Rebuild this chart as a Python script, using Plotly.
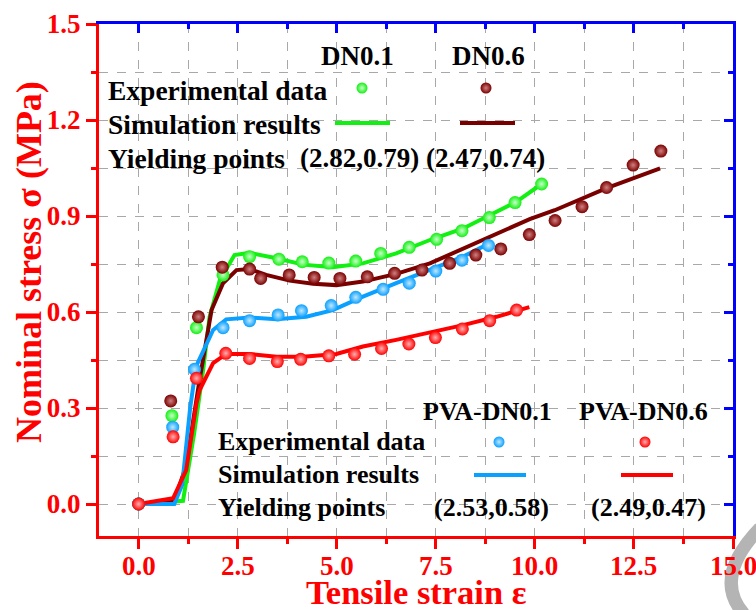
import plotly.graph_objects as go

# ---------------- data ----------------
# Experimental data (strain, nominal stress in MPa)
dn01_exp_x = [0, 0.84, 1.46, 2.13, 2.80, 3.54, 4.13, 4.80, 5.48, 6.11, 6.83, 7.52, 8.16, 8.85, 9.50, 10.17]
dn01_exp_y = [0, 0.276, 0.551, 0.716, 0.773, 0.765, 0.757, 0.753, 0.759, 0.783, 0.802, 0.827, 0.854, 0.895, 0.942, 1.00]

dn06_exp_x = [0, 0.81, 1.51, 2.11, 2.80, 3.08, 3.80, 4.43, 5.08, 5.77, 6.46, 7.15, 7.85, 8.51, 9.14, 9.86,
              10.51, 11.19, 11.81, 12.48, 13.18]
dn06_exp_y = [0, 0.322, 0.585, 0.740, 0.734, 0.705, 0.716, 0.708, 0.705, 0.710, 0.721, 0.731, 0.752, 0.778,
              0.797, 0.842, 0.886, 0.929, 0.989, 1.059, 1.103]

pva01_exp_x = [0, 0.86, 1.41, 2.13, 2.80, 3.52, 4.11, 4.86, 5.48, 6.17, 6.83, 7.50, 8.16, 8.83]
pva01_exp_y = [0, 0.240, 0.421, 0.551, 0.573, 0.591, 0.604, 0.620, 0.646, 0.671, 0.690, 0.728, 0.762, 0.808]

pva06_exp_x = [0, 0.87, 1.46, 2.20, 2.80, 3.50, 4.09, 4.80, 5.45, 6.13, 6.82, 7.49, 8.17, 8.86, 9.54]
pva06_exp_y = [0, 0.210, 0.393, 0.471, 0.455, 0.445, 0.452, 0.463, 0.468, 0.486, 0.500, 0.520, 0.547, 0.573, 0.606]

# Simulation results
dn01_sim_x = [0, 1.12, 1.40, 1.63, 1.79, 2.05, 2.42, 2.80, 3.48, 4.15, 4.90, 5.66, 6.50, 7.35, 8.19, 9.03, 9.54, 10.17]
dn01_sim_y = [0, 0.010, 0.220, 0.420, 0.585, 0.700, 0.778, 0.785, 0.768, 0.748, 0.740, 0.752, 0.783, 0.825,
              0.861, 0.914, 0.945, 1.000]

dn06_sim_x = [0, 0.90, 1.20, 1.54, 1.84, 2.13, 2.47, 2.80, 3.22, 3.81, 4.40, 4.99, 5.66, 6.50, 7.35, 8.19, 9.03,
              9.87, 10.50, 11.81, 13.16]
dn06_sim_y = [0, 0.010, 0.120, 0.390, 0.606, 0.690, 0.731, 0.734, 0.716, 0.698, 0.688, 0.684, 0.695, 0.719,
              0.752, 0.799, 0.846, 0.890, 0.918, 0.987, 1.049]

pva01_sim_x = [0, 0.90, 1.10, 1.30, 1.45, 1.88, 2.21, 2.80, 3.48, 4.23, 4.90, 5.66, 6.50, 7.35, 8.19, 8.86]
pva01_sim_y = [0, 0.000, 0.060, 0.300, 0.430, 0.544, 0.577, 0.583, 0.577, 0.585, 0.606, 0.648, 0.690, 0.731,
               0.773, 0.815]

pva06_sim_x = [0, 0.87, 1.20, 1.46, 1.54, 1.88, 2.21, 2.80, 3.48, 4.15, 4.99, 5.66, 6.50, 7.35, 8.19, 9.03, 9.86]
pva06_sim_y = [0, 0.018, 0.106, 0.315, 0.356, 0.440, 0.469, 0.469, 0.460, 0.460, 0.469, 0.492, 0.513, 0.535,
               0.559, 0.585, 0.615]

# Axis ticks
x_ticks = [0.0, 2.5, 5.0, 7.5, 10.0, 12.5, 15.0]
y_ticks = [0.0, 0.3, 0.6, 0.9, 1.2, 1.5]

# Legend text
series_names_top = ["DN0.1", "DN0.6"]
yield_top = ["(2.82,0.79)", "(2.47,0.74)"]
series_names_bottom = ["PVA-DN0.1", "PVA-DN0.6"]
yield_bottom = ["(2.53,0.58)", "(2.49,0.47)"]

# ---------------- style ----------------
GREEN = "#11f011"
BROWN = "#7a0000"
BLUE = "#0aa0ff"
RED = "#ff0000"
AXIS_RED = "#ff0000"
AXIS_BLUE = "#0000ff"
GRID = "#a8a8a8"
FONT = "Liberation Serif"

W, H = 756, 610
ML, MR, MT, MB = 99, 23, 24, 74
PW, PH = W - ML - MR, H - MT - MB


def px(x, y):
    """Pixel position on the page -> paper coordinates of the plot area."""
    return (x - ML) / PW, (H - MB - y) / PH


fig = go.Figure()

# simulation curves
for xs, ys, c in [(dn01_sim_x, dn01_sim_y, GREEN), (dn06_sim_x, dn06_sim_y, BROWN),
                  (pva01_sim_x, pva01_sim_y, BLUE), (pva06_sim_x, pva06_sim_y, RED)]:
    fig.add_trace(go.Scatter(x=xs, y=ys, mode="lines", line=dict(color=c, width=4),
                             showlegend=False, hoverinfo="skip"))


# shaded "ball" markers
def ball(color, hi, size):
    return dict(color=color, size=size, gradient=dict(type="radial", color=hi),
                line=dict(width=0))


for xs, ys, c, hi in [(dn01_exp_x, dn01_exp_y, GREEN, "#c8ffc8"),
                      (dn06_exp_x, dn06_exp_y, BROWN, "#d08080"),
                      (pva01_exp_x, pva01_exp_y, BLUE, "#c0e8ff"),
                      (pva06_exp_x, pva06_exp_y, RED, "#ffb0b0")]:
    fig.add_trace(go.Scatter(x=xs, y=ys, mode="markers", marker=ball(c, hi, 13),
                             showlegend=False, hoverinfo="skip"))

# dummy trace so the mirrored blue axes are drawn
fig.add_trace(go.Scatter(x=[None], y=[None], xaxis="x2", yaxis="y2", showlegend=False))

# legend sample balls on a hidden 0..1 overlay
sx, sy = [], []
for (lx, ly) in [(362, 88), (486, 88), (499, 442), (645, 442)]:
    fx, fy = px(lx, ly)
    sx.append(fx)
    sy.append(fy)
for i, (c, hi) in enumerate([(GREEN, "#c8ffc8"), (BROWN, "#d08080"), (BLUE, "#c0e8ff"), (RED, "#ffb0b0")]):
    fig.add_trace(go.Scatter(x=[sx[i]], y=[sy[i]], xaxis="x3", yaxis="y3", mode="markers",
                             marker=ball(c, hi, 11), showlegend=False, hoverinfo="skip"))

# white panels behind the two legend blocks
shapes = []
for (x0, y0, x1, y1) in [(ML + 2, MT + 2, 552, 170), (205, 395, 726, 522)]:
    a0, b0 = px(x0, y1)
    a1, b1 = px(x1, y0)
    shapes.append(dict(type="rect", xref="paper", yref="paper", x0=a0, y0=b0, x1=a1, y1=b1,
                       fillcolor="white", line=dict(width=0), layer="between"))

# legend line samples
for (x0, x1, yy, c) in [(335, 390, 123, GREEN), (460, 515, 123, BROWN),
                        (474, 526, 475, BLUE), (621, 673, 475, RED)]:
    a0, b = px(x0, yy)
    a1, _ = px(x1, yy)
    shapes.append(dict(type="line", xref="paper", yref="paper", x0=a0, x1=a1, y0=b, y1=b,
                       line=dict(color=c, width=4), layer="above"))

# grey curved stroke in the lower-right corner of the page
p0 = px(760, 528)
p1 = px(712, 578)
p2 = px(744, 614)
shapes.append(dict(type="path", xref="paper", yref="paper",
                   path=f"M {p0[0]},{p0[1]} Q {p1[0]},{p1[1]} {p2[0]},{p2[1]}",
                   line=dict(color="#b4b4b4", width=13), layer="below"))

annotations = []


def label(text, x, y, anchor="left", size=27, color="black", angle=0):
    fx, fy = px(x, y)
    annotations.append(dict(text=text, x=fx, y=fy, xref="paper", yref="paper", xanchor=anchor,
                            yanchor="middle", showarrow=False, textangle=angle,
                            font=dict(family=FONT, size=size, color=color, weight="bold")))


# upper legend block
label(series_names_top[0], 357, 56, "center")
label(series_names_top[1], 489, 56, "center")
label("Experimental data", 106, 90, size=27.5)
label("Simulation results", 106, 124, size=27.5)
label("Yielding points", 106, 158, size=27.5)
label(yield_top[0], 298, 158)
label(yield_top[1], 424, 158)

# lower legend block
label(series_names_bottom[0], 487, 411, "center", 26)
label(series_names_bottom[1], 643, 411, "center", 26)
label("Experimental data", 216, 441, size=26)
label("Simulation results", 216, 474, size=26)
label("Yielding points", 216, 507, size=26)
label(yield_bottom[0], 491, 507, "center", 26)
label(yield_bottom[1], 648, 507, "center", 26)

# axis titles
label("Tensile strain ε", ML + PW / 2, 592, "center", 34.5, AXIS_RED)
label("Nominal stress σ (MPa)", 29, 262, "center", 36, AXIS_RED, -90)

# strain tick labels, placed on the x data scale just below the ticks
tick_font = dict(family=FONT, size=27, color=AXIS_RED, weight="bold")
_, lab_y = px(0, 566)
for v in x_ticks:
    annotations.append(dict(text=f"{v:.1f}", x=v, xref="x", y=lab_y, yref="paper",
                            xanchor="center", yanchor="middle", showarrow=False, font=tick_font))

xr = [-1, 15]
yr = [-0.1, 1.5]

fig.update_layout(
    width=W, height=H,
    margin=dict(l=ML, r=MR, t=MT, b=MB, autoexpand=False),
    paper_bgcolor="white", plot_bgcolor="white",
    shapes=shapes, annotations=annotations,
    xaxis=dict(range=xr, tickvals=x_ticks, showticklabels=False,
               ticks="outside", ticklen=10, tickwidth=3, tickcolor=AXIS_RED,
               showline=True, linecolor=AXIS_RED, linewidth=3, zeroline=False,
               showgrid=True, gridcolor=GRID, griddash="dash", gridwidth=1,
               minor=dict(tick0=0, dtick=1.25, ticks="outside", ticklen=5, tickwidth=3,
                          tickcolor=AXIS_RED, showgrid=True, gridcolor=GRID, griddash="dash", gridwidth=1)),
    yaxis=dict(range=yr, tickvals=y_ticks, ticktext=[f"{v:.1f}" for v in y_ticks],
               ticks="outside", ticklen=10, tickwidth=3, tickcolor=AXIS_RED,
               showline=True, linecolor=AXIS_RED, linewidth=3, zeroline=False,
               showgrid=True, gridcolor=GRID, griddash="dash", gridwidth=1,
               minor=dict(tick0=0, dtick=0.15, ticks="outside", ticklen=5, tickwidth=3,
                          tickcolor=AXIS_RED, showgrid=True, gridcolor=GRID, griddash="dash", gridwidth=1),
               tickfont=tick_font),
    xaxis2=dict(range=xr, overlaying="x", side="top", tickvals=x_ticks, showticklabels=False,
                ticks="inside", ticklen=9, tickwidth=3, tickcolor=AXIS_BLUE,
                showline=True, linecolor=AXIS_BLUE, linewidth=3, zeroline=False, showgrid=False,
                minor=dict(tick0=0, dtick=1.25, ticks="inside", ticklen=5, tickwidth=3,
                           tickcolor=AXIS_BLUE, showgrid=False)),
    yaxis2=dict(range=yr, overlaying="y", side="right", tickvals=y_ticks, showticklabels=False,
                ticks="inside", ticklen=9, tickwidth=3, tickcolor=AXIS_BLUE,
                showline=True, linecolor=AXIS_BLUE, linewidth=3, zeroline=False, showgrid=False,
                minor=dict(tick0=0, dtick=0.15, ticks="inside", ticklen=5, tickwidth=3,
                           tickcolor=AXIS_BLUE, showgrid=False)),
    xaxis3=dict(range=[0, 1], overlaying="x", visible=False),
    yaxis3=dict(range=[0, 1], overlaying="y", visible=False),
)

fig.write_html("out.html")
